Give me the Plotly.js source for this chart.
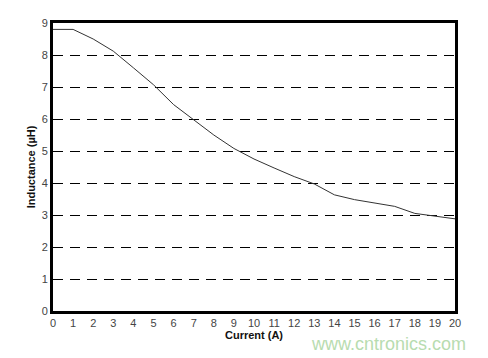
<!DOCTYPE html>
<html><head><meta charset="utf-8">
<script src="https://cdn.plot.ly/plotly-3.0.1.min.js"></script>
<style>html,body{margin:0;padding:0;background:#fff}#c{width:488px;height:358px}</style>
</head><body><div id="c"></div>
<script>
const current = [0,1,2,3,4,5,6,7,8,9,10,11,12,13,14,15,16,17,18,19,20];
const inductance = [8.8,8.8,8.5,8.12,7.6,7.07,6.45,5.98,5.5,5.08,4.75,4.47,4.2,3.97,3.63,3.48,3.38,3.27,3.05,2.97,2.88];
const xTicks = [0,1,2,3,4,5,6,7,8,9,10,11,12,13,14,15,16,17,18,19,20];
const yTicks = [0,1,2,3,4,5,6,7,8,9];

const trace = {x: current, y: inductance, type:'scatter', mode:'lines',
  line:{color:'#333', width:1}, hoverinfo:'skip'};
const layout = {
  width:488, height:358,
  margin:{l:53, r:33, t:23, b:47},
  paper_bgcolor:'#fff', plot_bgcolor:'#fff',
  showlegend:false,
  font:{family:'Liberation Sans, Arial, sans-serif', size:11, color:'#333'},
  xaxis:{range:[0,20], tickvals:xTicks, showgrid:false, zeroline:false,
    showline:true, linecolor:'#000', linewidth:3, mirror:true,
    ticks:'', ticklen:0, tickfont:{size:11, color:'#444'},
    title:{text:'<b>Current (A)</b>', font:{size:11, color:'#111'}, standoff:3}},
  yaxis:{range:[0,9], tickvals:yTicks, showgrid:true, gridcolor:'#000', gridwidth:1,
    griddash:'10px,7px', zeroline:false,
    showline:true, linecolor:'#000', linewidth:3, mirror:true,
    ticks:'', tickfont:{size:11, color:'#444'},
    title:{text:'<b>Inductance (µH)</b>', font:{size:11, color:'#111'}, standoff:4}},
  annotations:[{text:'www.cntronics.com', xref:'paper', yref:'paper', x:0.835, y:-0.115,
    xanchor:'center', yanchor:'middle', showarrow:false,
    font:{size:18, color:'#b8dcb0', family:'Liberation Sans, Arial, sans-serif'}}]
};
Plotly.newPlot('c',[trace],layout,{staticPlot:true});
</script></body></html>
